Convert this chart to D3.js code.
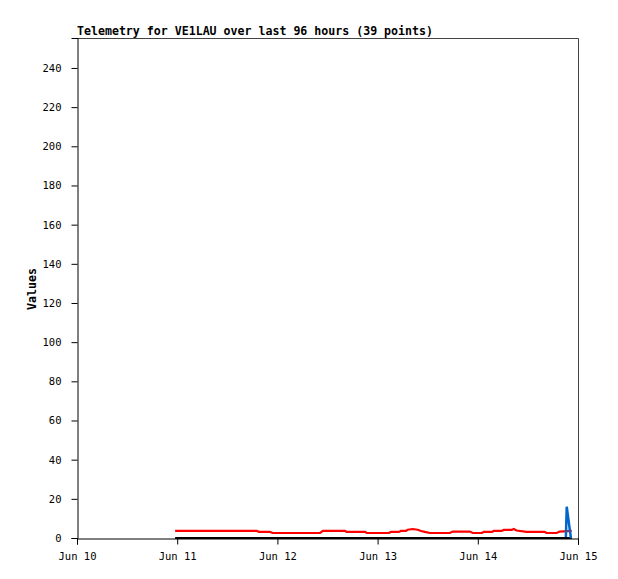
<!DOCTYPE html>
<html><head><meta charset="utf-8">
<script src="https://cdn.jsdelivr.net/npm/d3@7"></script>
<style>body{margin:0;background:#fff}</style>
</head><body>
<script>
// hours since Jun 10 00:00
const redHours = [23.5,43.1,43.6,46.2,46.9,58.2,58.9,64.2,64.6,69.0,69.4,74.7,75.2,77.1,77.6,78.8,79.2,80.4,81.6,82.4,83.3,84.5,89.3,90.0,94.1,94.8,97.0,97.4,99.4,99.8,101.7,102.2,104.1,104.6,105.3,107.7,112.0,112.5,114.9,115.6,118.5];
const redValues = [3.6,3.6,3.1,3.1,2.55,2.55,3.6,3.6,3.1,3.1,2.55,2.55,3.1,3.1,3.6,3.6,4.2,4.6,4.2,3.6,3.1,2.55,2.55,3.3,3.3,2.55,2.55,3.1,3.1,3.6,3.6,4.1,4.1,4.6,3.8,3.1,3.1,2.55,2.55,3.3,3.6];
const blackHours = [23.5,118.5];
const blackValues = [0,0];
const blueHours = [117.1,117.3,118.3];
const blueValues = [0.5,16,0];
const yTicks = [0,20,40,60,80,100,120,140,160,180,200,220,240];
const xTickLabels = ["Jun 10","Jun 11","Jun 12","Jun 13","Jun 14","Jun 15"];
const title = "Telemetry for VE1LAU over last 96 hours (39 points)";

const W=618,H=579;
const svg=d3.select("body").append("svg").attr("width",W).attr("height",H);
const L=77,R=578,T=38,B=538;
const t0=new Date(2024,5,10,0,0);
const toDate=h=>new Date(t0.getTime()+h*3600000);
const x=d3.scaleTime().domain([t0,toDate(120)]).range([L,R]);
const y=d3.scaleLinear().domain([0,255.3]).range([B,T]);
const mono="'DejaVu Sans Mono', monospace";

// frame top/right
svg.append("path").attr("d",`M${L},${T+0.5}H${R+0.5}V${B+7}`).attr("fill","none").attr("stroke","#444").attr("stroke-width",1);

// y axis
const ya=svg.append("g").attr("transform",`translate(${L+0.5},0)`)
  .call(d3.axisLeft(y).tickValues(yTicks).tickSize(6).tickPadding(10));
ya.select(".domain").attr("stroke","#000");
ya.selectAll("text").attr("font-family",mono).attr("font-size","10.5px").attr("fill","#000");

// x axis
const xa=svg.append("g").attr("transform",`translate(0,${B+0.5})`)
  .call(d3.axisBottom(x).tickValues(xTickLabels.map((d,i)=>toDate(i*24))).tickFormat((d,i)=>xTickLabels[i]).tickSize(6).tickPadding(8));
xa.select(".domain").attr("stroke","#000");
xa.selectAll("text").attr("font-family",mono).attr("font-size","10.5px").attr("fill","#000");

const line=d3.line().x(d=>x(toDate(d[0]))).y(d=>y(d[1]));
function series(hs,vs,color,w){
  svg.append("path").datum(hs.map((h,i)=>[h,vs[i]])).attr("d",line)
   .attr("fill","none").attr("stroke",color).attr("stroke-width",w).attr("stroke-linejoin","miter");
}
series(blackHours,blackValues,"#000",2);
series(redHours,redValues,"#ff0000",2.2);
series(blueHours,blueValues,"#0066cc",2.5);

svg.append("text").attr("x",L).attr("y",35).text(title)
  .attr("font-family",mono).attr("font-size","11.6px").attr("font-weight","bold").attr("fill","#000");
svg.append("text").attr("transform",`translate(36,${(T+B)/2+1}) rotate(-90)`).attr("text-anchor","middle")
  .text("Values").attr("font-family",mono).attr("font-size","11.6px").attr("font-weight","bold").attr("fill","#000");
</script>
</body></html>
